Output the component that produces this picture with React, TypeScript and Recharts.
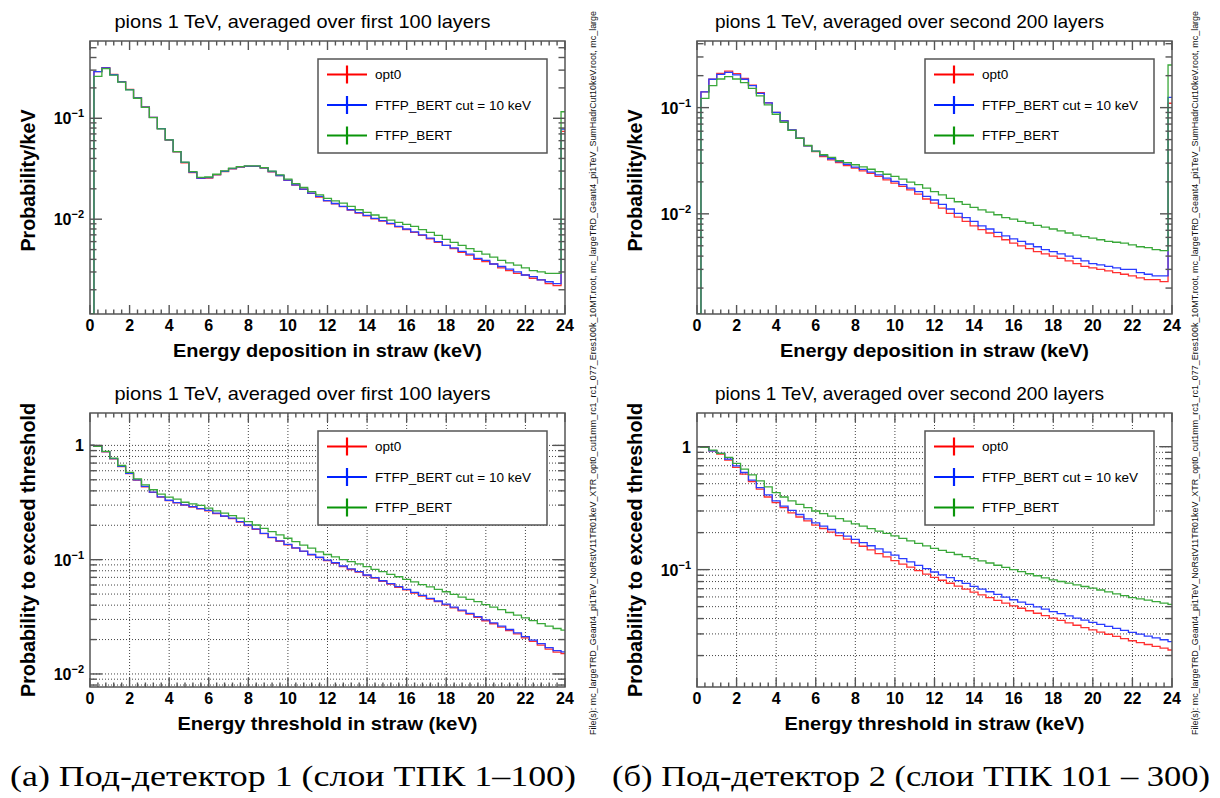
import React from "react";
import { LineChart, Line, XAxis, YAxis, ReferenceLine } from "recharts";

const FONT = '"Liberation Sans", Arial, Helvetica, sans-serif';
const SERIF = '"Liberation Serif", "DejaVu Serif", serif';

// x axis (keV)
const X_LABELS = [0, 2, 4, 6, 8, 10, 12, 14, 16, 18, 20, 22, 24];
const X_MINOR_DIV = 5;

// histogram bins: [0,0.2), 59 bins of 0.4 keV, then [23.8,24)
const BIN_EDGES = [0, ...Array.from({ length: 60 }, (_, i) => Math.round((0.2 + 0.4 * i) * 10) / 10), 24];

const SERIES = [
  { key: "r", name: "opt0", line: "#ff3030", legend: "#ff0000" },
  { key: "b", name: "FTFP_BERT cut = 10 keV", line: "#2a3cff", legend: "#0022ff" },
  { key: "g", name: "FTFP_BERT", line: "#3aa83a", legend: "#0a950a" },
];

// first 100 layers, energy deposition (Probability/keV)
const TL_OPT0 = [0, 0.29, 0.318, 0.272, 0.231, 0.193, 0.16, 0.13, 0.102, 0.0788, 0.0608, 0.0466, 0.0362, 0.029, 0.0254, 0.0256, 0.0275, 0.0297, 0.0316, 0.0329, 0.0334, 0.0334, 0.032, 0.0295, 0.027, 0.0242, 0.0218, 0.0198, 0.018, 0.0166, 0.0152, 0.0142, 0.0133, 0.0123, 0.0115, 0.0108, 0.0101, 0.0096, 0.009, 0.0084, 0.0079, 0.0074, 0.0069, 0.0064, 0.0059, 0.0055, 0.0051, 0.0047, 0.0044, 0.004, 0.0038, 0.0036, 0.0033, 0.0031, 0.0029, 0.0028, 0.0026, 0.0025, 0.0023, 0.0022, 0.074];
const TL_CUT10 = [0, 0.29, 0.315, 0.27, 0.229, 0.192, 0.159, 0.129, 0.102, 0.079, 0.061, 0.0468, 0.0365, 0.0293, 0.0256, 0.0258, 0.0276, 0.0298, 0.0317, 0.033, 0.0335, 0.0335, 0.0322, 0.0297, 0.0271, 0.0244, 0.0219, 0.0199, 0.0181, 0.0168, 0.0153, 0.0143, 0.0134, 0.0124, 0.0116, 0.0109, 0.0102, 0.0097, 0.0091, 0.0085, 0.008, 0.0075, 0.007, 0.0065, 0.006, 0.0055, 0.0052, 0.0048, 0.0045, 0.0041, 0.0039, 0.0036, 0.0034, 0.0032, 0.003, 0.0028, 0.0027, 0.0025, 0.0024, 0.0023, 0.078];
const TL_FTFP = [0, 0.26, 0.31, 0.268, 0.228, 0.191, 0.158, 0.128, 0.1015, 0.0784, 0.061, 0.0468, 0.0367, 0.0296, 0.026, 0.0262, 0.0279, 0.0301, 0.032, 0.0332, 0.0337, 0.0337, 0.0325, 0.03, 0.0275, 0.0249, 0.0225, 0.0206, 0.0188, 0.0174, 0.0161, 0.0152, 0.0144, 0.0134, 0.0124, 0.0117, 0.011, 0.0104, 0.0098, 0.0093, 0.0089, 0.0085, 0.0079, 0.0074, 0.0069, 0.0063, 0.0059, 0.0055, 0.0051, 0.0048, 0.0045, 0.0042, 0.0039, 0.0037, 0.0035, 0.0033, 0.0031, 0.003, 0.0029, 0.0029, 0.116];

// second 200 layers, energy deposition
const TR_OPT0 = [0, 0.141, 0.185, 0.21, 0.221, 0.209, 0.188, 0.163, 0.138, 0.111, 0.0904, 0.075, 0.0617, 0.0515, 0.0436, 0.0386, 0.0346, 0.0322, 0.0304, 0.0285, 0.0269, 0.0254, 0.024, 0.0225, 0.0209, 0.0195, 0.0181, 0.0168, 0.0153, 0.0138, 0.0126, 0.0113, 0.0101, 0.0093, 0.0085, 0.0077, 0.0071, 0.0066, 0.0061, 0.0057, 0.0053, 0.005, 0.0047, 0.0044, 0.0042, 0.004, 0.0038, 0.0036, 0.0034, 0.0032, 0.0031, 0.003, 0.0029, 0.0028, 0.0027, 0.0026, 0.0025, 0.0024, 0.0024, 0.0023, 0.11];
const TR_CUT10 = [0, 0.141, 0.185, 0.206, 0.215, 0.203, 0.185, 0.161, 0.136, 0.111, 0.0904, 0.075, 0.0617, 0.0515, 0.0436, 0.039, 0.0354, 0.033, 0.031, 0.0293, 0.0275, 0.0262, 0.0247, 0.0233, 0.0217, 0.0202, 0.0188, 0.0175, 0.0162, 0.0146, 0.0135, 0.0123, 0.0111, 0.0101, 0.0092, 0.0085, 0.0077, 0.0072, 0.0067, 0.0062, 0.0058, 0.0055, 0.0052, 0.0049, 0.0046, 0.0044, 0.0042, 0.004, 0.0038, 0.0036, 0.0034, 0.0033, 0.0032, 0.0031, 0.003, 0.003, 0.0028, 0.0027, 0.0026, 0.0026, 0.125];
const TR_FTFP = [0, 0.122, 0.161, 0.186, 0.196, 0.186, 0.172, 0.152, 0.129, 0.106, 0.0866, 0.0728, 0.061, 0.0515, 0.044, 0.039, 0.036, 0.034, 0.0316, 0.0304, 0.029, 0.0277, 0.0263, 0.025, 0.0236, 0.0225, 0.0212, 0.0199, 0.0188, 0.0175, 0.0162, 0.0151, 0.014, 0.013, 0.0123, 0.0115, 0.0109, 0.0104, 0.0098, 0.0092, 0.0089, 0.0085, 0.0082, 0.0078, 0.0075, 0.0072, 0.0069, 0.0066, 0.0063, 0.0061, 0.0059, 0.0057, 0.0055, 0.0054, 0.0053, 0.0051, 0.0049, 0.0048, 0.0046, 0.0045, 0.252];

// first 100 layers, probability to exceed threshold
const BL_OPT0 = [1, 0.98, 0.878, 0.762, 0.652, 0.567, 0.497, 0.434, 0.388, 0.352, 0.329, 0.314, 0.3, 0.289, 0.278, 0.268, 0.253, 0.239, 0.229, 0.213, 0.199, 0.184, 0.169, 0.156, 0.145, 0.135, 0.126, 0.118, 0.11, 0.104, 0.098, 0.093, 0.087, 0.082, 0.0777, 0.0727, 0.069, 0.0647, 0.061, 0.0574, 0.0544, 0.0511, 0.0481, 0.0452, 0.0429, 0.0403, 0.0379, 0.0356, 0.0334, 0.0313, 0.0292, 0.0275, 0.0257, 0.024, 0.0224, 0.0207, 0.0193, 0.0179, 0.0165, 0.0155, 0.0151];
const BL_CUT10 = [1, 0.98, 0.88, 0.765, 0.655, 0.57, 0.5, 0.437, 0.39, 0.354, 0.331, 0.316, 0.302, 0.291, 0.28, 0.27, 0.255, 0.241, 0.231, 0.215, 0.201, 0.186, 0.17, 0.157, 0.146, 0.136, 0.127, 0.119, 0.111, 0.105, 0.099, 0.094, 0.088, 0.083, 0.0785, 0.0734, 0.0697, 0.0654, 0.0616, 0.058, 0.055, 0.0517, 0.0487, 0.0458, 0.0435, 0.0409, 0.0385, 0.0362, 0.0339, 0.0318, 0.0297, 0.028, 0.0262, 0.0245, 0.0229, 0.0212, 0.0198, 0.0184, 0.017, 0.016, 0.0156];
const BL_FTFP = [1, 0.98, 0.886, 0.774, 0.667, 0.58, 0.51, 0.452, 0.409, 0.374, 0.352, 0.338, 0.318, 0.308, 0.298, 0.282, 0.267, 0.255, 0.243, 0.231, 0.215, 0.201, 0.188, 0.176, 0.165, 0.154, 0.144, 0.134, 0.126, 0.117, 0.111, 0.106, 0.1, 0.096, 0.0917, 0.087, 0.0824, 0.0785, 0.0743, 0.0709, 0.0672, 0.064, 0.0606, 0.0578, 0.055, 0.0524, 0.0497, 0.0471, 0.0449, 0.0429, 0.0405, 0.0385, 0.0366, 0.0345, 0.0327, 0.0309, 0.0293, 0.0276, 0.0262, 0.025, 0.0242];

// second 200 layers, probability to exceed threshold
const BR_OPT0 = [1, 0.99, 0.927, 0.871, 0.778, 0.678, 0.598, 0.521, 0.451, 0.39, 0.351, 0.319, 0.29, 0.268, 0.249, 0.23, 0.216, 0.202, 0.189, 0.177, 0.165, 0.155, 0.145, 0.135, 0.127, 0.1185, 0.111, 0.105, 0.098, 0.092, 0.0866, 0.082, 0.0775, 0.0733, 0.0694, 0.0657, 0.0624, 0.0593, 0.0563, 0.0535, 0.0508, 0.0485, 0.0463, 0.0442, 0.0422, 0.0403, 0.0386, 0.0369, 0.0353, 0.0338, 0.0323, 0.031, 0.0298, 0.0286, 0.0275, 0.0264, 0.0255, 0.0246, 0.0238, 0.023, 0.0222];
const BR_CUT10 = [1, 0.99, 0.927, 0.882, 0.793, 0.699, 0.617, 0.534, 0.465, 0.405, 0.362, 0.329, 0.304, 0.281, 0.259, 0.24, 0.226, 0.212, 0.199, 0.187, 0.176, 0.166, 0.1565, 0.1475, 0.139, 0.131, 0.123, 0.1155, 0.1085, 0.102, 0.0957, 0.0907, 0.086, 0.0814, 0.0772, 0.0731, 0.0695, 0.0661, 0.0629, 0.0598, 0.0569, 0.0544, 0.0521, 0.0498, 0.0477, 0.0456, 0.0438, 0.0421, 0.0404, 0.0388, 0.0373, 0.0359, 0.0346, 0.0333, 0.0321, 0.0309, 0.0299, 0.0288, 0.0279, 0.0269, 0.026];
const BR_FTFP = [1, 0.99, 0.939, 0.882, 0.818, 0.731, 0.657, 0.59, 0.527, 0.471, 0.423, 0.39, 0.362, 0.34, 0.32, 0.3, 0.286, 0.272, 0.26, 0.248, 0.236, 0.2255, 0.2155, 0.206, 0.197, 0.188, 0.1795, 0.1713, 0.1636, 0.156, 0.149, 0.1434, 0.138, 0.1328, 0.1278, 0.123, 0.118, 0.1132, 0.1086, 0.1042, 0.1, 0.0962, 0.0926, 0.0892, 0.0858, 0.0826, 0.0801, 0.0776, 0.0752, 0.0729, 0.0707, 0.0683, 0.0659, 0.0636, 0.0614, 0.0593, 0.0578, 0.0564, 0.0549, 0.0535, 0.0522];

const TITLE_FIRST = "pions 1 TeV, averaged over first 100 layers";
const TITLE_SECOND = "pions 1 TeV, averaged over second 200 layers";
const XLABEL_DEP = "Energy deposition in straw (keV)";
const XLABEL_THR = "Energy threshold in straw (keV)";
const YLABEL_DEP = "Probability/keV";
const YLABEL_THR = "Probability to exceed threshold";
const CAPTIONS = ["(а) Под-детектор 1 (слои ТПК 1–100)", "(б) Под-детектор 2 (слои ТПК 101 – 300)"];
const FILE_NOTE =
  "File(s): mc_largeTRD_Geant4_pi1TeV_NoRstV11TR01keV_XTR_opt0_cut1mm_rc1_rc1_077_Eres100k_10MT.root, mc_largeTRD_Geant4_pi1TeV_SumHadrCut10keV.root, mc_large";

const PANELS = [
  { id: "tl", left: 90, top: 41, width: 475, height: 273, yMin: 0.00115, yMax: 0.583, grid: false, data: [TL_OPT0, TL_CUT10, TL_FTFP], title: TITLE_FIRST, titleW: 376, xLabel: XLABEL_DEP, xLabelW: 309, yLabel: YLABEL_DEP, yLabelW: 142, yLabelDy: 3 },
  { id: "tr", left: 697, top: 41, width: 475, height: 273, yMin: 0.00114, yMax: 0.424, grid: false, data: [TR_OPT0, TR_CUT10, TR_FTFP], title: TITLE_SECOND, titleW: 389, xLabel: XLABEL_DEP, xLabelW: 309, yLabel: YLABEL_DEP, yLabelW: 142, yLabelDy: 3 },
  { id: "bl", left: 90, top: 413, width: 475, height: 274, yMin: 0.00769, yMax: 1.92, grid: true, data: [BL_OPT0, BL_CUT10, BL_FTFP], title: TITLE_FIRST, titleW: 376, xLabel: XLABEL_THR, xLabelW: 300, yLabel: YLABEL_THR, yLabelW: 294, yLabelDy: 0 },
  { id: "br", left: 697, top: 413, width: 475, height: 274, yMin: 0.0111, yMax: 1.88, grid: true, data: [BR_OPT0, BR_CUT10, BR_FTFP], title: TITLE_SECOND, titleW: 389, xLabel: XLABEL_THR, xLabelW: 300, yLabel: YLABEL_THR, yLabelW: 294, yLabelDy: 0 },
];

// plot area offset inside each chart; axes take 1px each
const PL = 90;
const PT = 12;
const PR_PAD = 14;
const PB_PAD = 30;
const MARGIN = { top: PT - 1, right: PR_PAD - 1, bottom: PB_PAD - 1, left: PL - 1 };
const TICK_COLOR = "#555";

function logTicks(lo: number, hi: number) {
  const out: number[] = [];
  for (let e = -4; e <= 1; e++) {
    for (let m = 1; m <= 9; m++) {
      const v = +(m * Math.pow(10, e)).toPrecision(3);
      if (v >= lo && v <= hi) out.push(v);
    }
  }
  return out;
}

const isDecade = (v: number) => Math.abs(Math.log10(v) - Math.round(Math.log10(v))) < 1e-6;

function Panel({ p }: { p: (typeof PANELS)[number] }) {
  const rows = BIN_EDGES.map((x, i) => {
    const row: any = { x };
    SERIES.forEach((s, j) => {
      const arr = p.data[j];
      row[s.key] = Math.max(arr[Math.min(i, arr.length - 1)], p.yMin);
    });
    return row;
  });
  const xTicks: number[] = [];
  for (let i = 0; i < X_LABELS.length - 1; i++) {
    for (let k = 0; k < X_MINOR_DIV; k++) {
      xTicks.push(+(X_LABELS[i] + ((X_LABELS[i + 1] - X_LABELS[i]) * k) / X_MINOR_DIV).toFixed(2));
    }
  }
  xTicks.push(X_LABELS[X_LABELS.length - 1]);
  const yTicks = logTicks(p.yMin, p.yMax);

  const pl = PL;
  const pt = PT;
  const pr = PL + p.width;
  const pb = PT + p.height;

  const xTick = (side: "b" | "t") => (t: any) => {
    const v = t.payload.value;
    const x = t.payload.coordinate ?? t.x;
    const major = Math.abs(v / 2 - Math.round(v / 2)) < 1e-6;
    const len = major ? 9 : 4.5;
    const y0 = side === "b" ? pb : pt;
    const y1 = side === "b" ? pb - len : pt + len;
    return (
      <g key={`${side}${v}`}>
        <line x1={x} x2={x} y1={y0} y2={y1} stroke={TICK_COLOR} strokeWidth={1.4} />
        {side === "b" && major && (
          <text x={x} y={pb + 11} textAnchor="middle" dominantBaseline="central" fontFamily={FONT} fontWeight="bold" fontSize={16} fill="#000">
            {v}
          </text>
        )}
      </g>
    );
  };

  const yTick = (side: "l" | "r") => (t: any) => {
    const v = t.payload.value;
    const y = t.payload.coordinate ?? t.y;
    const major = isDecade(v);
    const len = major ? 12 : 6.5;
    const x0 = side === "l" ? pl : pr;
    const x1 = side === "l" ? pl + len : pr - len;
    const exp = Math.round(Math.log10(v));
    return (
      <g key={`${side}${v}`}>
        <line x1={x0} x2={x1} y1={y} y2={y} stroke={TICK_COLOR} strokeWidth={1.4} />
        {side === "l" && major && (
          <text x={pl - 6} y={y + 6} textAnchor="end" fontFamily={FONT} fontWeight="bold" fontSize={16} fill="#000">
            {exp === 0 ? (
              "1"
            ) : (
              <>
                <tspan>10</tspan>
                <tspan dy={-7} fontSize={11}>{`\u2212${-exp}`}</tspan>
              </>
            )}
          </text>
        )}
      </g>
    );
  };

  return (
    <div style={{ position: "absolute", left: p.left - PL, top: p.top - PT }}>
      <LineChart width={p.width + PL + PR_PAD} height={p.height + PT + PB_PAD} data={rows} margin={MARGIN}>
        <XAxis xAxisId="b" dataKey="x" type="number" domain={[0, 24]} ticks={xTicks} interval={0} height={1} axisLine={false} tickLine={false} tick={xTick("b")} allowDataOverflow />
        <XAxis xAxisId="t" orientation="top" dataKey="x" type="number" domain={[0, 24]} ticks={xTicks} interval={0} height={1} axisLine={false} tickLine={false} tick={xTick("t")} allowDataOverflow />
        <YAxis yAxisId="l" type="number" scale="log" domain={[p.yMin, p.yMax]} ticks={yTicks} interval={0} width={1} axisLine={false} tickLine={false} tick={yTick("l")} allowDataOverflow />
        <YAxis yAxisId="r" orientation="right" type="number" scale="log" domain={[p.yMin, p.yMax]} ticks={yTicks} interval={0} width={1} axisLine={false} tickLine={false} tick={yTick("r")} allowDataOverflow />
        {p.grid &&
          yTicks.map((v) => (
            <ReferenceLine key={`gy${v}`} xAxisId="b" yAxisId="l" y={v} stroke="#444" strokeWidth={1} strokeDasharray="1 2" />
          ))}
        {p.grid &&
          X_LABELS.slice(1, -1).map((v) => (
            <ReferenceLine key={`gx${v}`} xAxisId="b" yAxisId="l" x={v} stroke="#444" strokeWidth={1} strokeDasharray="1 2" />
          ))}
        {SERIES.map((s) => (
          <Line
            key={s.key}
            xAxisId="b"
            yAxisId="l"
            type="stepAfter"
            dataKey={s.key}
            name={s.name}
            stroke={s.line}
            strokeWidth={1.3}
            dot={false}
            activeDot={false}
            isAnimationActive={false}
          />
        ))}
      </LineChart>
    </div>
  );
}

function Overlay() {
  return (
    <svg width={1220} height={798} style={{ position: "absolute", left: 0, top: 0, pointerEvents: "none" }}>
      {PANELS.map((p) => {
        const cx = p.left + p.width / 2;
        const lx = p.left + 228;
        const ly = p.top + 18;
        return (
          <g key={p.id}>
            <rect x={p.left} y={p.top} width={p.width} height={p.height} fill="none" stroke="#555" strokeWidth={1.5} />
            <text x={cx - 25} y={p.top - 20} textAnchor="middle" dominantBaseline="central" fontFamily={FONT} fontSize={19} fill="#000" textLength={p.titleW} lengthAdjust="spacingAndGlyphs">
              {p.title}
            </text>
            <text x={cx} y={p.top + p.height + 36} textAnchor="middle" dominantBaseline="central" fontFamily={FONT} fontWeight="bold" fontSize={19} fill="#000" textLength={p.xLabelW} lengthAdjust="spacingAndGlyphs">
              {p.xLabel}
            </text>
            <text
              transform={`translate(${p.left - 62}, ${p.top + p.height / 2 + p.yLabelDy}) rotate(-90)`}
              textAnchor="middle"
              dominantBaseline="central"
              fontFamily={FONT}
              fontWeight="bold"
              fontSize={20}
              fill="#000"
              textLength={p.yLabelW}
              lengthAdjust="spacingAndGlyphs"
            >
              {p.yLabel}
            </text>
            <rect x={lx} y={ly} width={229} height={94} fill="#fff" stroke="#555" strokeWidth={1.5} />
            {SERIES.map((s, i) => {
              const y = ly + 15.5 + i * 30.5;
              return (
                <g key={s.key}>
                  <line x1={lx + 9} x2={lx + 49} y1={y} y2={y} stroke={s.legend} strokeWidth={2.2} />
                  <line x1={lx + 29} x2={lx + 29} y1={y - 9} y2={y + 9} stroke={s.legend} strokeWidth={2.2} />
                  <text x={lx + 57} y={y} dominantBaseline="central" fontFamily={FONT} fontSize={13.5} fill="#000">
                    {s.name}
                  </text>
                </g>
              );
            })}
          </g>
        );
      })}
      {[596, 1198].map((x) => (
        <text key={x} transform={`translate(${x}, 735) rotate(-90)`} fontFamily={FONT} fontSize={8.5} fill="#111" textLength={724} lengthAdjust="spacingAndGlyphs">
          {FILE_NOTE}
        </text>
      ))}
      <text x={293} y={776} textAnchor="middle" dominantBaseline="central" fontFamily={SERIF} fontSize={29} fill="#000" textLength={566} lengthAdjust="spacingAndGlyphs">
        {CAPTIONS[0]}
      </text>
      <text x={911} y={776} textAnchor="middle" dominantBaseline="central" fontFamily={SERIF} fontSize={29} fill="#000" textLength={598} lengthAdjust="spacingAndGlyphs">
        {CAPTIONS[1]}
      </text>
    </svg>
  );
}

export default function App() {
  return (
    <div style={{ position: "absolute", left: 0, top: 0, width: 1220, height: 798, background: "#fff", overflow: "hidden" }}>
      {PANELS.map((p) => (
        <Panel key={p.id} p={p} />
      ))}
      <Overlay />
    </div>
  );
}
